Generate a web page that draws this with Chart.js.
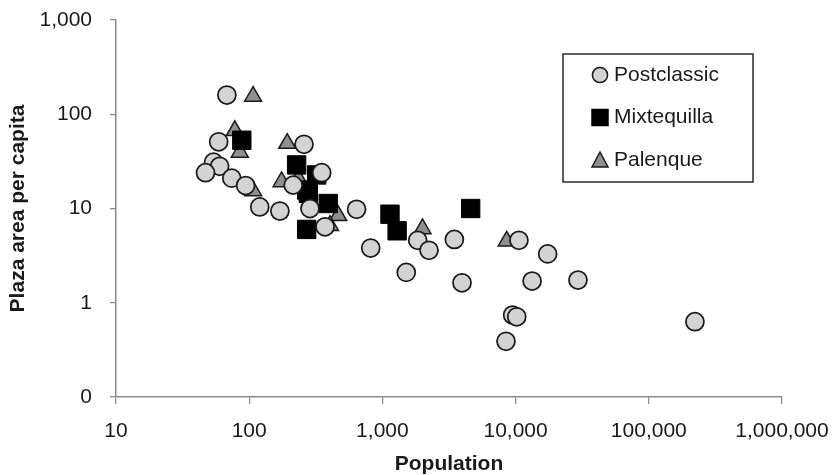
<!DOCTYPE html>
<html><head><meta charset="utf-8">
<script src="https://cdn.jsdelivr.net/npm/chart.js@4.4.1/dist/chart.umd.min.js"></script>
<style>html,body{margin:0;padding:0;background:#fff;}#wrap{width:836px;height:475px;}</style>
</head><body><div id="wrap"><canvas id="c" width="836" height="475" style="width:836px;height:475px"></canvas></div>
<script>
const seriesNames = ['Postclassic', 'Mixtequilla', 'Palenque'];

const postclassicPop  = [68, 59, 54, 60, 47, 74, 94, 120, 170, 258, 350, 214, 286, 371, 640, 817, 1840, 2240, 1510, 3470, 3960, 10600, 17400, 13300, 29400, 9500, 10200, 8470, 222000];
const postclassicArea = [160, 51, 31, 28, 24, 21, 17.5, 10.4, 9.4, 48, 24, 17.7, 10, 6.4, 9.8, 3.8, 4.6, 3.6, 2.1, 4.7, 1.63, 4.6, 3.3, 1.7, 1.74, 0.74, 0.71, 0.39, 0.63];

const mixtequillaPop  = [88, 227, 321, 270, 278, 392, 270, 1140, 1290, 4600];
const mixtequillaArea = [53, 29, 22.7, 15.7, 14.5, 11.3, 6.0, 8.7, 5.8, 10];

const palenquePop  = [107, 78, 85, 193, 107, 175, 234, 466, 404, 2000, 8570];
const palenqueArea = [155, 67, 39.5, 49, 15.4, 19.2, 20.7, 8.4, 6.6, 6.1, 4.5];

const xTickValues = [10, 100, 1000, 10000, 100000, 1000000];
const xTickLabels = ['10', '100', '1,000', '10,000', '100,000', '1,000,000'];
const yTickValues = [0.1, 1, 10, 100, 1000];
const yTickLabels = ['0', '1', '10', '100', '1,000'];

const xTitle = 'Population';
const yTitle = 'Plaza area per capita';

function toPoints(xs, ys) { return xs.map((x, i) => ({x: x, y: ys[i]})); }

const FONT = '"Liberation Sans", Arial, sans-serif';
Chart.defaults.font.family = FONT;
Chart.defaults.font.size = 21;
Chart.defaults.color = '#1a1a1a';

const insideLegend = {
  id: 'insideLegend',
  afterDraw(chart) {
    const {ctx, chartArea} = chart;
    const w = 190, h = 128;
    const right = chartArea.right - 29;
    const top = chartArea.top + 34;
    const left = right - w;
    ctx.save();
    ctx.fillStyle = '#ffffff';
    ctx.fillRect(left, top, w, h);
    ctx.strokeStyle = '#2a2a2a';
    ctx.lineWidth = 1.5;
    ctx.strokeRect(left, top, w, h);
    chart.data.datasets.forEach((ds, i) => {
      const cx = left + 37;
      const cy = top + 21 + i * 42.5;
      ctx.fillStyle = ds.backgroundColor;
      ctx.strokeStyle = ds.borderColor;
      ctx.lineWidth = 1.5;
      ctx.beginPath();
      if (ds.pointStyle === 'circle') {
        ctx.arc(cx, cy, 7.6, 0, Math.PI * 2);
      } else if (ds.pointStyle === 'rect') {
        ctx.rect(cx - 8, cy - 8, 16, 16);
      } else {
        ctx.moveTo(cx, cy - 8);
        ctx.lineTo(cx + 8, cy + 7);
        ctx.lineTo(cx - 8, cy + 7);
        ctx.closePath();
      }
      ctx.fill();
      ctx.stroke();
      ctx.fillStyle = '#1a1a1a';
      ctx.font = '21px ' + FONT;
      ctx.textBaseline = 'middle';
      ctx.textAlign = 'left';
      ctx.fillText(ds.label, cx + 14, cy);
    });
    ctx.restore();
  }
};

const axisColor = '#8a8a8a';

new Chart(document.getElementById('c'), {
  type: 'scatter',
  data: {
    datasets: [
      {
        label: seriesNames[0],
        data: toPoints(postclassicPop, postclassicArea),
        pointStyle: 'circle',
        pointRadius: 9,
        pointHoverRadius: 9,
        backgroundColor: '#d3d3d3',
        borderColor: '#1a1a1a',
        pointBorderWidth: 1.75
      },
      {
        label: seriesNames[1],
        data: toPoints(mixtequillaPop, mixtequillaArea),
        pointStyle: 'rect',
        pointRadius: 13,
        pointHoverRadius: 13,
        backgroundColor: '#000000',
        borderColor: '#000000',
        pointBorderWidth: 1
      },
      {
        label: seriesNames[2],
        data: toPoints(palenquePop, palenqueArea),
        pointStyle: 'triangle',
        pointRadius: 9.8,
        pointHoverRadius: 9.8,
        backgroundColor: '#8f8f8f',
        borderColor: '#1a1a1a',
        pointBorderWidth: 1.5
      }
    ]
  },
  options: {
    responsive: false,
    animation: false,
    devicePixelRatio: 1,
    layout: {padding: {top: 20, right: 54, left: 0, bottom: 0}},
    plugins: {
      legend: {display: false},
      tooltip: {enabled: false}
    },
    scales: {
      x: {
        type: 'logarithmic',
        min: 10,
        max: 1000000,
        afterBuildTicks: (s) => { s.ticks = xTickValues.map(v => ({value: v})); },
        afterFit: (s) => { s.height = 78; s.paddingLeft = 0; s.paddingRight = 0; },
        ticks: {
          padding: 15,
          autoSkip: false,
          maxRotation: 0,
          color: '#1a1a1a',
          callback: (v) => { const i = xTickValues.indexOf(v); return i >= 0 ? xTickLabels[i] : ''; }
        },
        grid: {display: true, drawOnChartArea: false, drawTicks: true, tickLength: 7, color: axisColor, lineWidth: 1.25},
        border: {display: true, color: axisColor, width: 1.5},
        title: {display: true, text: xTitle, font: {size: 21, weight: 'bold', lineHeight: 1}, color: '#1a1a1a', padding: {top: 0, bottom: 0}}
      },
      y: {
        type: 'logarithmic',
        min: 0.1,
        max: 1000,
        afterBuildTicks: (s) => { s.ticks = yTickValues.map(v => ({value: v})); },
        afterFit: (s) => { s.width = 116; s.paddingTop = 0; s.paddingBottom = 0; },
        ticks: {
          padding: 18,
          autoSkip: false,
          color: '#1a1a1a',
          callback: (v) => { const i = yTickValues.indexOf(v); return i >= 0 ? yTickLabels[i] : ''; }
        },
        grid: {display: true, drawOnChartArea: false, drawTicks: true, tickLength: 6, color: axisColor, lineWidth: 1.25},
        border: {display: true, color: axisColor, width: 1.5},
        title: {display: true, text: yTitle, font: {size: 21, weight: 'bold', lineHeight: 1.2}, color: '#1a1a1a', padding: {top: 6, bottom: 0}}
      }
    }
  },
  plugins: [insideLegend]
});
</script>
</body></html>
